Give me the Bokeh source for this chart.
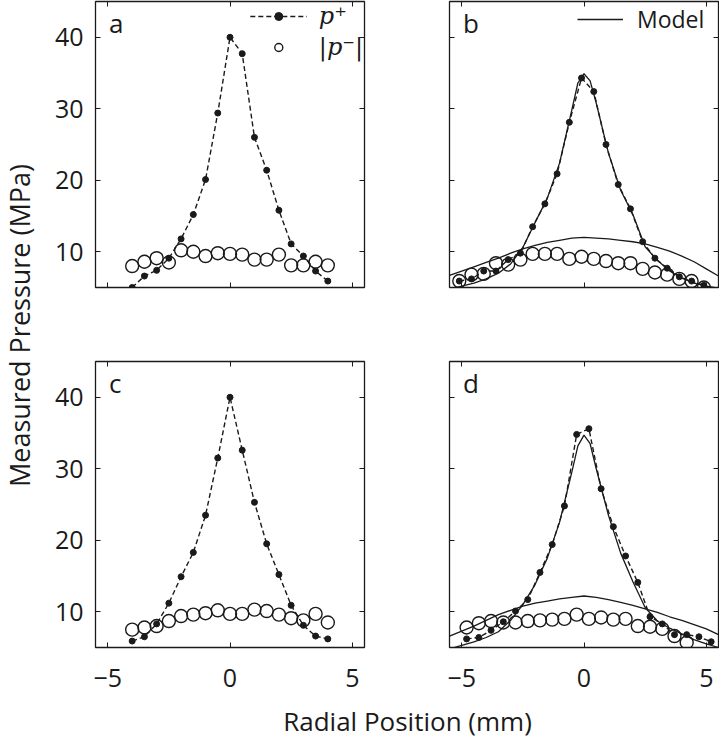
import math
from bokeh.plotting import figure
from bokeh.models import (Range1d, FixedTicker, LinearAxis, Legend, LegendItem, Label,
                          CustomLabelingPolicy)
from bokeh.layouts import row, column
from bokeh.embed import file_html
from bokeh.resources import INLINE
from bokeh.core.properties import value

# ---------------- data ----------------
# panel a
a_x = [-4.0, -3.5, -3.0, -2.5, -2.0, -1.5, -1.0, -0.5, 0.0, 0.5, 1.0, 1.5, 2.0, 2.5, 3.0, 3.5, 4.0]
a_pplus = [5.0, 6.6, 7.4, 9.1, 11.8, 15.2, 20.1, 29.4, 40.0, 37.7, 26.0, 21.4, 15.8, 11.1, 9.4, 7.3, 5.9]
a_pminus = [8.0, 8.6, 9.1, 8.5, 10.2, 10.0, 9.4, 9.8, 9.7, 9.6, 8.9, 8.9, 9.6, 8.1, 8.1, 8.6, 8.1]

# panel b
b_x = [-5.1, -4.6, -4.1, -3.6, -3.1, -2.6, -2.1, -1.6, -1.1, -0.6, -0.1, 0.4, 0.9, 1.4, 1.9, 2.4, 2.9, 3.4, 3.9, 4.4, 4.9]
b_pplus = [5.9, 6.2, 7.3, 7.3, 8.9, 9.8, 13.5, 16.7, 20.9, 28.1, 34.3, 32.4, 25.0, 19.4, 16.0, 11.4, 9.1, 7.7, 6.5, 5.9, 5.3]
b_pminus = [5.9, 6.8, 6.9, 8.4, 8.2, 8.9, 9.7, 9.7, 9.7, 9.0, 9.3, 9.0, 8.7, 8.4, 8.4, 7.6, 7.1, 6.8, 6.2, 5.9, 5.0]

# panel c
c_x = [-4.0, -3.5, -3.0, -2.5, -2.0, -1.5, -1.0, -0.5, 0.0, 0.5, 1.0, 1.5, 2.0, 2.5, 3.0, 3.5, 4.0]
c_pplus = [5.9, 6.5, 8.3, 11.2, 14.9, 18.3, 23.5, 31.5, 40.0, 32.6, 25.3, 19.5, 15.2, 10.9, 8.1, 6.6, 6.2]
c_pminus = [7.5, 7.8, 8.0, 8.7, 9.4, 9.6, 9.8, 10.2, 9.7, 9.7, 10.3, 10.1, 9.6, 9.1, 8.8, 9.7, 8.5]

# panel d
d_x = [-4.8, -4.3, -3.8, -3.3, -2.8, -2.3, -1.8, -1.3, -0.8, -0.3, 0.2, 0.7, 1.2, 1.7, 2.2, 2.7, 3.2, 3.7, 4.2, 4.7, 5.2]
d_pplus = [6.2, 6.4, 7.4, 8.6, 10.1, 11.7, 15.5, 19.4, 24.8, 34.8, 35.6, 27.2, 21.9, 17.8, 14.1, 9.3, 8.3, 6.8, 6.8, 6.5, 5.8]
d_pminus_x = [-4.8, -4.3, -3.8, -3.3, -2.8, -2.3, -1.8, -1.3, -0.8, -0.3, 0.2, 0.7, 1.2, 1.7, 2.2, 2.7, 3.2, 3.7, 4.2]
d_pminus = [7.8, 8.4, 8.7, 8.5, 8.5, 8.7, 8.8, 8.9, 9.0, 9.6, 9.0, 9.2, 8.9, 9.0, 8.0, 7.9, 7.6, 6.6, 5.7]

# model curves (panels b and d)
model_peak_x = [-5.5, -5.0, -4.5, -4.0, -3.5, -3.0, -2.5, -2.0, -1.5, -1.0, -0.5, -0.25, 0.0,
                0.25, 0.5, 1.0, 1.5, 2.0, 2.5, 3.0, 3.5, 4.0, 4.5, 5.0, 5.5]
b_model_peak = [4.7, 5.2, 5.6, 6.2, 7.0, 8.3, 10.6, 14.1, 17.5, 22.4, 29.8, 33.6, 34.9,
                33.9, 30.8, 23.8, 18.6, 15.2, 10.7, 8.8, 7.3, 6.3, 5.6, 5.2, 4.9]
d_model_peak = [4.8, 5.3, 5.8, 6.4, 7.2, 8.8, 11.0, 13.8, 17.5, 22.5, 29.5, 33.2, 34.7,
                33.5, 30.0, 23.5, 18.2, 14.2, 10.6, 8.7, 7.7, 6.9, 6.1, 5.5, 5.0]
model_broad_x = [-5.5, -5.0, -4.5, -4.0, -3.5, -3.0, -2.5, -2.0, -1.5, -1.0, -0.5, 0.0,
                 0.5, 1.0, 1.5, 2.0, 2.5, 3.0, 3.5, 4.0, 4.5, 5.0, 5.5]
b_model_broad = [6.7, 7.3, 7.9, 8.5, 9.1, 9.8, 10.4, 10.9, 11.3, 11.6, 11.9, 12.0,
                 11.9, 11.8, 11.6, 11.4, 11.1, 10.6, 10.1, 9.4, 8.6, 7.6, 6.6]
d_model_broad = [6.6, 7.3, 8.0, 8.8, 9.6, 10.2, 10.8, 11.2, 11.5, 11.8, 12.0, 12.2,
                 12.0, 11.7, 11.3, 10.9, 10.4, 9.9, 9.3, 8.8, 8.2, 7.6, 6.8]

x_ticks = [-5, 0, 5]
x_tick_labels = {-5: "\u22125", 0: "0", 5: "5"}
y_ticks = [10, 20, 30, 40]
x_lim = (-5.5, 5.5)
y_lim = (5, 45)

FONT = "Open Sans"
INK = "#1a1a1a"
NO_LABELS = CustomLabelingPolicy(code="return []")


def style_axis(ax, ticks, show_labels, overrides=None, standoff=12):
    ax.ticker = FixedTicker(ticks=ticks)
    ax.minor_tick_line_color = None
    ax.major_tick_in = 5
    ax.major_tick_out = 0
    ax.major_tick_line_color = INK
    ax.major_tick_line_width = 1
    ax.axis_line_color = None
    if show_labels:
        ax.major_label_text_font = FONT
        ax.major_label_text_font_size = "25px"
        ax.major_label_text_color = INK
        ax.major_label_standoff = standoff
        if overrides:
            ax.major_label_overrides = overrides
    else:
        ax.major_label_policy = NO_LABELS
        ax.major_label_text_font_size = "0px"
        ax.major_label_standoff = 0


def make_panel(letter, xlab, ylab, mb_left, mb_right, mb_top, mb_bottom):
    p = figure(frame_width=269, frame_height=286,
               x_range=Range1d(*x_lim), y_range=Range1d(*y_lim),
               output_backend="svg", toolbar_location=None,
               min_border_left=mb_left, min_border_right=mb_right,
               min_border_top=mb_top, min_border_bottom=mb_bottom)
    p.grid.visible = False
    p.outline_line_color = INK
    p.outline_line_width = 1.3
    p.background_fill_color = "white"
    p.border_fill_color = "white"
    style_axis(p.xaxis[0], x_ticks, xlab, x_tick_labels, standoff=21)
    style_axis(p.yaxis[0], y_ticks, ylab, None, standoff=12)
    top = LinearAxis()
    style_axis(top, x_ticks, False)
    p.add_layout(top, "above")
    right = LinearAxis()
    style_axis(right, y_ticks, False)
    p.add_layout(right, "right")
    p.add_layout(Label(x=-4.95, y=42.0, text=letter, text_font=FONT,
                       text_font_size="26px", text_color=INK,
                       text_baseline="alphabetic", text_align="left"))
    return p


def draw_data(p, x, pplus, xm, pminus):
    ln = p.line(x, pplus, line_color=INK, line_width=1.4, line_dash="5 3")
    dots = p.scatter(x, pplus, marker="circle", size=6, fill_color=INK, line_color=INK)
    circ = p.scatter(xm, pminus, marker="circle", size=13, fill_alpha=0,
                     line_color=INK, line_width=1.4)
    return ln, dots, circ


def draw_model(p, peak, broad):
    m1 = p.line(model_peak_x, peak, line_color=INK, line_width=1.3)
    p.line(model_broad_x, broad, line_color=INK, line_width=1.3)
    return m1


pa = make_panel("a", False, True, 55, 10, 1, 9)
pb = make_panel("b", False, False, 75, 1, 1, 9)
pc = make_panel("c", True, True, 55, 10, 65, 55)
pd = make_panel("d", True, False, 75, 1, 65, 55)

la, sa, ca = draw_data(pa, a_x, a_pplus, a_x, a_pminus)
mb = draw_model(pb, b_model_peak, b_model_broad)
draw_data(pb, b_x, b_pplus, b_x, b_pminus)
draw_data(pc, c_x, c_pplus, c_x, c_pminus)
draw_model(pd, d_model_peak, d_model_broad)
draw_data(pd, d_x, d_pplus, d_pminus_x, d_pminus)

leg_a = Legend(items=[LegendItem(label="p\u207a", renderers=[la, sa]),
                      LegendItem(label="|p\u207b|", renderers=[ca])],
               location="top_right", background_fill_alpha=0, border_line_alpha=0,
               label_text_font="DejaVu Serif", label_text_font_style="italic",
               label_text_font_size="24px", label_text_color=INK,
               glyph_width=57, glyph_height=20, label_standoff=12, spacing=3,
               padding=1, margin=0, label_height=26)
pa.add_layout(leg_a)

leg_b = Legend(items=[LegendItem(label="Model", renderers=[mb])],
               location="top_right", background_fill_alpha=0, border_line_alpha=0,
               label_text_font=FONT, label_text_font_size="23px", label_text_color=INK,
               glyph_width=46, glyph_height=20, label_standoff=14, label_width=79,
               padding=2, margin=0, label_height=24)
pb.add_layout(leg_b)

# shared axis titles
ylab = figure(width=40, height=738, x_range=Range1d(0, 40), y_range=Range1d(0, 738),
              output_backend="svg", toolbar_location=None, min_border=0)
ylab.axis.visible = False
ylab.grid.visible = False
ylab.outline_line_color = None
ylab.text(x=[19], y=[413], text=["Measured Pressure (MPa)"], angle=math.pi / 2,
          text_font=value(FONT), text_font_size="27px", text_color=INK,
          text_align="center", text_baseline="middle")

xlab = figure(width=679, height=36, x_range=Range1d(0, 679), y_range=Range1d(0, 36),
              output_backend="svg", toolbar_location=None, min_border=0)
xlab.axis.visible = False
xlab.grid.visible = False
xlab.outline_line_color = None
xlab.text(x=[367], y=[18], text=["Radial Position (mm)"],
          text_font=value(FONT), text_font_size="26px", text_color=INK,
          text_align="center", text_baseline="middle")

layout = row(ylab, column(row(pa, pb), row(pc, pd), xlab))

open("out.html", "w").write(file_html(layout, INLINE))
